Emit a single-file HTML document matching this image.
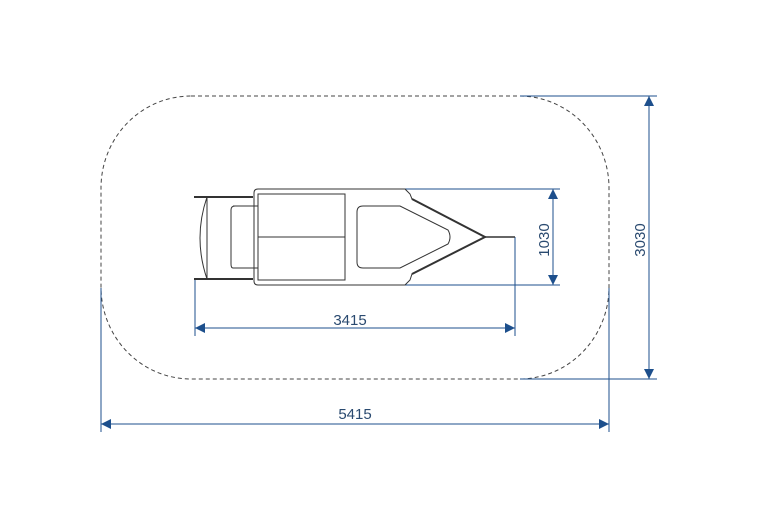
<!DOCTYPE html>
<html><head><style>body{margin:0;background:#fff}svg{display:block}</style></head><body>
<svg width="757" height="529" viewBox="0 0 757 529" xmlns="http://www.w3.org/2000/svg" font-family="Liberation Sans, sans-serif">
<rect x="101" y="96" width="508" height="283" rx="90" ry="92" fill="none" stroke="#444" stroke-width="1" stroke-dasharray="4,3"/>
<g stroke="#1d4f8c" stroke-width="1" fill="none">
<line x1="101" y1="288" x2="101" y2="432"/><line x1="609" y1="288" x2="609" y2="432"/>
<line x1="101" y1="424" x2="609" y2="424"/>
<line x1="195" y1="278" x2="195" y2="336"/><line x1="515" y1="237" x2="515" y2="336"/>
<line x1="195" y1="328" x2="515" y2="328"/>
<line x1="520" y1="96" x2="657" y2="96"/><line x1="520" y1="379" x2="657" y2="379"/>
<line x1="649" y1="96" x2="649" y2="379"/>
<line x1="405" y1="189" x2="560" y2="189"/><line x1="405" y1="285" x2="560" y2="285"/>
<line x1="553" y1="189" x2="553" y2="285"/>
</g>
<g fill="#1d4f8c">
<path d="M101 424 l10 -5 v10z"/><path d="M609 424 l-10 -5 v10z"/>
<path d="M195 328 l10 -5 v10z"/><path d="M515 328 l-10 -5 v10z"/>
<path d="M649 96 l-5 10 h10z"/><path d="M649 379 l-5 -10 h10z"/>
<path d="M553 189 l-5 10 h10z"/><path d="M553 285 l-5 -10 h10z"/>
</g>
<g fill="#2a4a70" font-size="15">
<text x="355" y="419" text-anchor="middle">5415</text>
<text x="350" y="325" text-anchor="middle">3415</text>
<text transform="translate(645,240) rotate(-90)" text-anchor="middle">3030</text>
<text transform="translate(549,240) rotate(-90)" text-anchor="middle">1030</text>
</g>
<g stroke="#333" stroke-width="1" fill="none">
<path d="M194 197 H253 M194 279 H253" stroke-width="2"/>
<path d="M207 197 Q193 238 207 279"/>
<line x1="207" y1="197" x2="207" y2="279"/>
<path d="M258 189 H405 L410 194 L412 199 L485 237 L412 274 L410 280 L405 285 H258 Q254 285 254 281 V193 Q254 189 258 189Z"/>
<path d="M233 206 H258 V268 H233 Q231 268 231 264 V210 Q231 206 235 206Z"/>
<rect x="258" y="194" width="87" height="86"/>
<line x1="258" y1="237" x2="345" y2="237"/>
<path d="M363 206 H400 L448 230 Q452 237 448 244 L400 268 H363 Q357 268 357 262 V212 Q357 206 363 206Z"/>
<path d="M412 199 L485 237 L412 274" stroke-width="2"/>
<line x1="485" y1="237" x2="515" y2="237" stroke-width="1.5"/>
</g>
</svg>
</body></html>
